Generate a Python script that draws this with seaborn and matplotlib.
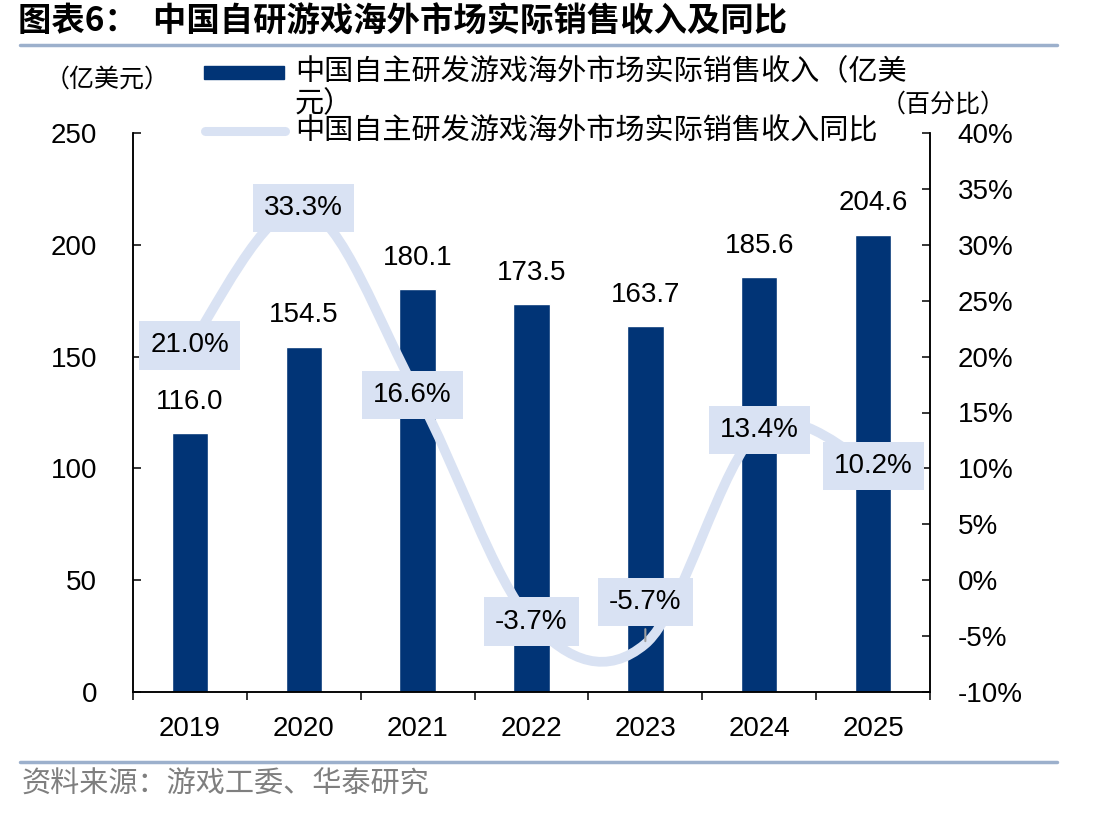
import numpy as np
import pandas as pd
import seaborn as sns
import matplotlib.pyplot as plt
from matplotlib.path import Path
from matplotlib.patches import PathPatch, Rectangle
from matplotlib.lines import Line2D

years = ['2019', '2020', '2021', '2022', '2023', '2024', '2025']
revenue = [116.0, 154.5, 180.1, 173.5, 163.7, 185.6, 204.6]
yoy = [21.0, 33.3, 16.6, -3.7, -5.7, 13.4, 10.2]

BAR = '#013476'
LINE = '#D9E2F3'
RULE = '#9CB0CC'

sns.set_theme(style='ticks')
plt.rcParams['font.family'] = ['Liberation Sans', 'Noto Sans CJK SC']
plt.rcParams.update({'text.color': 'black', 'axes.edgecolor': 'black',
                     'xtick.color': 'black', 'ytick.color': 'black',
                     'axes.labelcolor': 'black'})
CJK = ['Noto Sans CJK SC', 'DejaVu Sans']

W, H = 1113, 816
fig = plt.figure(figsize=(W / 100, H / 100), dpi=100)


def fx(px):
    return px / W


def fy(py):
    return 1 - py / H


ax = fig.add_axes([fx(133), fy(692), fx(930) - fx(133), fy(133) - fy(692)])
df = pd.DataFrame({'year': years, 'revenue': revenue})
sns.barplot(data=df, x='year', y='revenue', color=BAR, saturation=1,
            width=0.32, ax=ax)
ax.set_xlim(-0.5, 6.5)
ax.set_ylim(0, 250)
ax.set_yticks(np.arange(0, 251, 50))
ax.set_xlabel('')
ax.set_ylabel('')
ax.bar_label(ax.containers[0], fmt='%.1f', padding=13, fontsize=20)

ax.set_xticks(np.arange(-0.5, 7, 1), minor=True)
ax.tick_params(axis='x', which='major', length=0, pad=17, labelsize=20)
ax.tick_params(axis='x', which='minor', length=6, width=1.1, direction='out')
ax.tick_params(axis='y', direction='in', length=6, width=1.1, pad=26, labelsize=20)

# yoy line on secondary axis, smoothed with bezier segments
ax2 = ax.twinx()
ax2.set_ylim(-10, 40)
ax2.set_yticks(np.arange(-10, 41, 5))
ax2.set_yticklabels([f'{v}%' for v in range(-10, 41, 5)])
ax2.tick_params(axis='y', direction='in', length=6, width=1.1, pad=20, labelsize=20)

pts = np.column_stack([np.arange(len(yoy)), yoy]).astype(float)
padded = np.vstack([pts[0], pts, pts[-1]])
verts = [pts[0]]
codes = [Path.MOVETO]
for i in range(len(pts) - 1):
    p0, p1, p2, p3 = padded[i], padded[i + 1], padded[i + 2], padded[i + 3]
    verts += [p1 + (p2 - p0) / 6, p2 - (p3 - p1) / 6, p2]
    codes += [Path.CURVE4] * 3
ax2.add_patch(PathPatch(Path(verts, codes), fill=False, edgecolor=LINE,
                        lw=7, capstyle='round', zorder=2))

offsets = {2: (-4, 0), 4: (0, 30)}
for i, v in enumerate(yoy):
    dx, dy = offsets.get(i, (0, 0))
    ax2.annotate(f'{v:.1f}%', xy=(i, v), xytext=(dx, dy),
                 textcoords='offset points', ha='center', va='center',
                 fontsize=20, zorder=5,
                 bbox=dict(boxstyle='square,pad=0.4', fc=LINE, ec='none'),
                 arrowprops=dict(arrowstyle='-', color='#A0A0A0', lw=1.5) if dy else None)

for a in (ax, ax2):
    a.spines['top'].set_visible(False)
    for s in ('left', 'right', 'bottom'):
        a.spines[s].set_linewidth(1.1)
        a.spines[s].set_color('black')

# legend drawn by hand
fig.add_artist(Rectangle((fx(204), fy(79)), fx(284) - fx(204), fy(66) - fy(79),
                         transform=fig.transFigure, color=BAR))
fig.add_artist(Line2D([fx(205), fx(285)], [fy(131), fy(131)], transform=fig.transFigure,
                      color=LINE, lw=6.5, solid_capstyle='round'))
fig.text(fx(295), fy(72), '中国自主研发游戏海外市场实际销售收入（亿美',
         family=CJK, fontsize=21, va='center')
fig.text(fx(295), fy(104), '元）', family=CJK, fontsize=21, va='center')
fig.text(fx(295), fy(131), '中国自主研发游戏海外市场实际销售收入同比',
         family=CJK, fontsize=21, va='center')

fig.text(fx(107), fy(80), '（亿美元）', family=CJK, fontsize=18, ha='center', va='center')
fig.text(fx(943), fy(105), '（百分比）', family=CJK, fontsize=18, ha='center', va='center')

fig.text(fx(18), fy(22), '图表6：  中国自研游戏海外市场实际销售收入及同比',
         family=CJK, fontsize=24, fontweight='bold', va='center')
fig.add_artist(Line2D([fx(20), fx(1057)], [fy(45), fy(45)], transform=fig.transFigure,
                      color=RULE, lw=2.5))
fig.add_artist(Line2D([fx(20), fx(1057)], [fy(762), fy(762)], transform=fig.transFigure,
                      color=RULE, lw=2.5))
fig.text(fx(22), fy(785), '资料来源：游戏工委、华泰研究', family=CJK, fontsize=21,
         color='#7F7F7F', va='center')

fig.savefig('out.png', dpi=100)
